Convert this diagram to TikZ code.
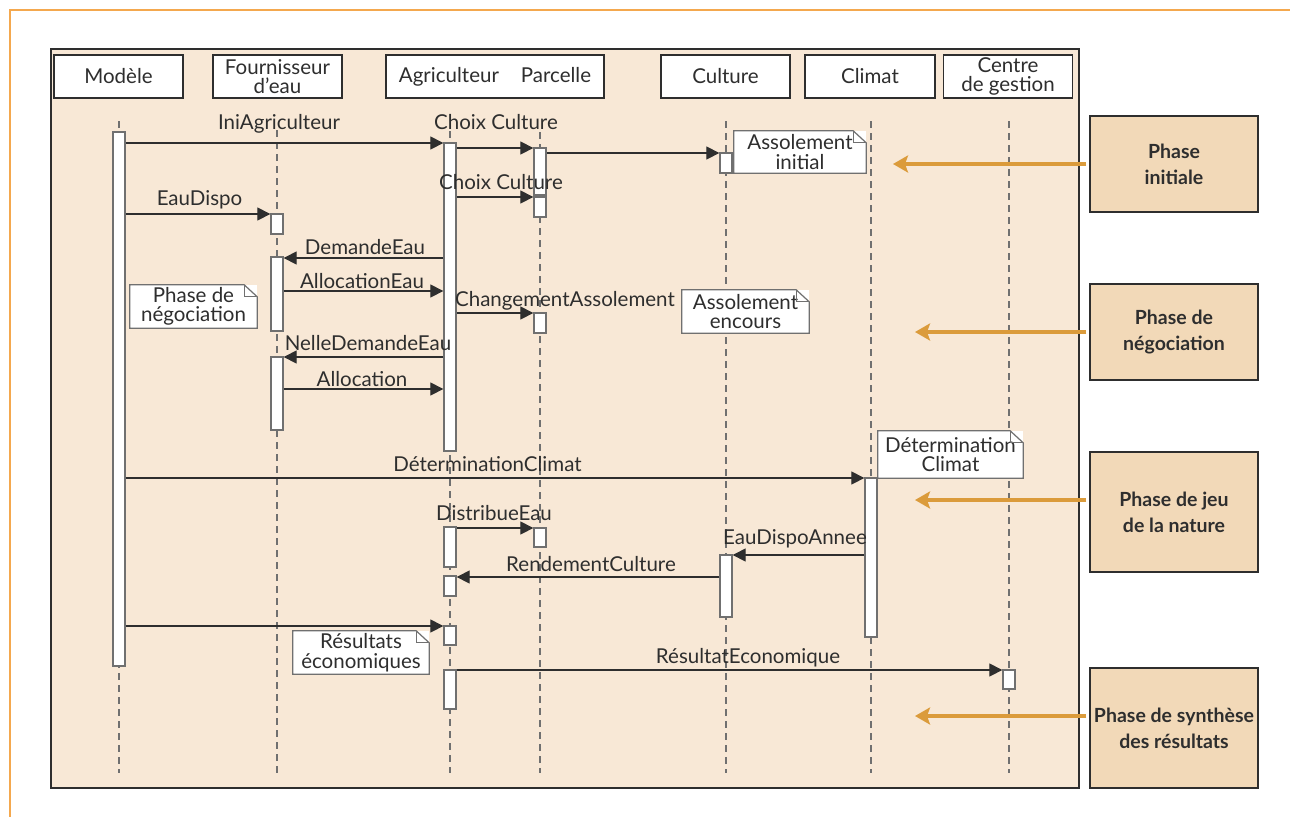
\documentclass[tikz,border=0pt]{standalone}
\usepackage{fontspec}
\setmainfont{Lato}
\usetikzlibrary{arrows.meta}
\definecolor{fond}{HTML}{F8E8D6}
\definecolor{phasefond}{HTML}{F2D9B8}
\definecolor{orangef}{HTML}{DB9B3B}
\definecolor{cadre}{HTML}{F4A84E}
\definecolor{trait}{HTML}{2E2E2E}
\definecolor{gris}{HTML}{707070}
\begin{document}
\begin{tikzpicture}[x=1pt, y=-1pt,
  txt/.style={text=trait, font=\fontsize{20.5}{19.5}\selectfont},
  entete/.style={txt, draw=trait, fill=white, line width=1.3pt, minimum width=129pt, minimum height=43pt, inner sep=0pt, align=center},
  vie/.style={gris, line width=1.3pt, dash pattern=on 7pt off 5pt},
  act/.style={draw=gris, fill=white, line width=1.3pt, minimum width=12pt, inner sep=0pt},
  msg/.style={trait, line width=1.2pt, -{Triangle[length=13pt,width=13pt]}},
  lbl/.style={txt, anchor=base, inner sep=0pt},
  note/.style={txt, fill=white, inner sep=0pt, align=center, font=\fontsize{20.5}{19.5}\selectfont},
  notebd/.style={gris, line width=1.2pt},
  phase/.style={draw=trait, fill=phasefond, line width=1.3pt, minimum width=168pt, text=trait, align=center, font=\fontsize{19.5}{26}\selectfont\bfseries},
  phflech/.style={orangef, line width=3.5pt, -{Stealth[length=15pt,width=17pt,inset=3pt]}, shorten <=3pt}]
\useasboundingbox (0,0) rectangle (1290,817);
\draw[cadre, line width=1.5pt] (1290,10) -- (10,10) -- (10,817);
\draw[trait, line width=1.3pt, fill=fond] (51,49) rectangle (1079,788);

% objets
\node[entete] (modele) at (118.5,76.5) {Modèle};
\node[entete] (fourn) at (277.5,76.5) {Fournisseur\\d’eau};
\node[entete, minimum width=218pt] (agri) at (495,76.5) {Agriculteur\hspace{22pt}Parcelle};
\node[entete] (culture) at (725.5,76.5) {Culture};
\node[entete, minimum width=130pt] (climat) at (870,76.5) {Climat};
\node[entete] (centre) at (1008,76.5) {Centre\\de gestion};

% lignes de vie
\foreach \x/\y in {119/121, 277/130, 450/131, 540/132, 726/121, 871/121, 1009/121}
  \draw[vie] (\x,\y) -- (\x,773);

% activations
\foreach \n/\x/\a/\b in {mod/119/132/666, fou1/277/214/234, fou2/277/257/331, fou3/277/357/430,
    agr1/450/143/451, agr2/450/527/567, agr3/450/576/596, agr4/450/626/645, agr5/450/670/709,
    par1/540/148/195, par2/540/197/217, par3/540/313/333, par4/540/528/547,
    cul1/726/153/173, cul2/726/555/617, cli/871/478/637, cen/1009/670/689}
  \node[act, minimum height=\b pt-\a pt] (\n) at (\x,{(\a+\b)/2}) {};

% messages
\foreach \a/\b/\y/\t/\lx/\ly [count=\i] in {
    mod.east/agr1.west/143/IniAgriculteur/279/129,
    agr1.east/par1.west/148/Choix Culture/496/129,
    par1.east/cul1.west/153//600/153,
    agr1.east/par2.west/197/Choix Culture/501/189,
    mod.east/fou1.west/214/EauDispo/199.5/205,
    agr1.west/fou2.east/258/DemandeEau/365/254,
    fou2.east/agr1.west/291/AllocationEau/362/288,
    agr1.east/par3.west/313/ChangementAssolement/565/306,
    agr1.west/fou3.east/357/NelleDemandeEau/368/350,
    fou3.east/agr1.west/389/Allocation/362/386,
    mod.east/cli.west/478/DéterminationClimat/487.5/471,
    agr2.east/par4.west/528/DistribueEau/494/520,
    cli.west/cul2.east/555/EauDispoAnnee/795/544,
    cul2.west/agr3.east/577/RendementCulture/591/571,
    mod.east/agr4.west/626//300/626,
    agr5.east/cen.west/670/RésultatEconomique/748/663}
  \draw[msg] (\a |- 0,\y) -- (\b |- 0,\y) node[lbl] (m\i) at (\lx,\ly) {\t};

% notes
\node[note, minimum width=132pt, minimum height=42pt] (n1) at (800,152) {Assolement\\initial};
\node[note, minimum width=127pt, minimum height=43pt] (n2) at (193.5,306.5) {Phase de\\négociation};
\node[note, minimum width=127pt, minimum height=43pt] (n3) at (745.5,311.5) {Assolement\\encours};
\node[note, minimum width=145pt, minimum height=47pt] (n4) at (950.5,454.5) {Détermination\\Climat};
\node[note, minimum width=136pt, minimum height=43pt] (n5) at (361,652.5) {Résultats\\économiques};
\foreach \n in {n1,n2,n3,n4,n5} {
  \draw[notebd] (\n.south west) -- (\n.north west) -- ([xshift=-13pt]\n.north east)
    -- ([yshift=-12pt]\n.north east) -- (\n.south east) -- cycle;
  \draw[notebd] ([xshift=-13pt]\n.north east) |- ([yshift=-12pt]\n.north east);
}

% phases
\node[phase, minimum height=96pt] (ph1) at (1174,164) {Phase\\initiale};
\node[phase, minimum height=96pt] (ph2) at (1174,332) {Phase de\\négociation};
\node[phase, minimum height=120pt] (ph3) at (1174,512) {Phase de jeu\\de la nature};
\node[phase, minimum height=120pt] (ph4) at (1174,728) {Phase de synthèse\\des résultats};
\coordinate (t1) at (893,164);
\coordinate (t2) at (915,332);
\coordinate (t3) at (915,500);
\coordinate (t4) at (915,716);
\foreach \i in {1,...,4}
  \draw[phflech] (ph\i.west |- t\i) -- (t\i);
\end{tikzpicture}
\end{document}
